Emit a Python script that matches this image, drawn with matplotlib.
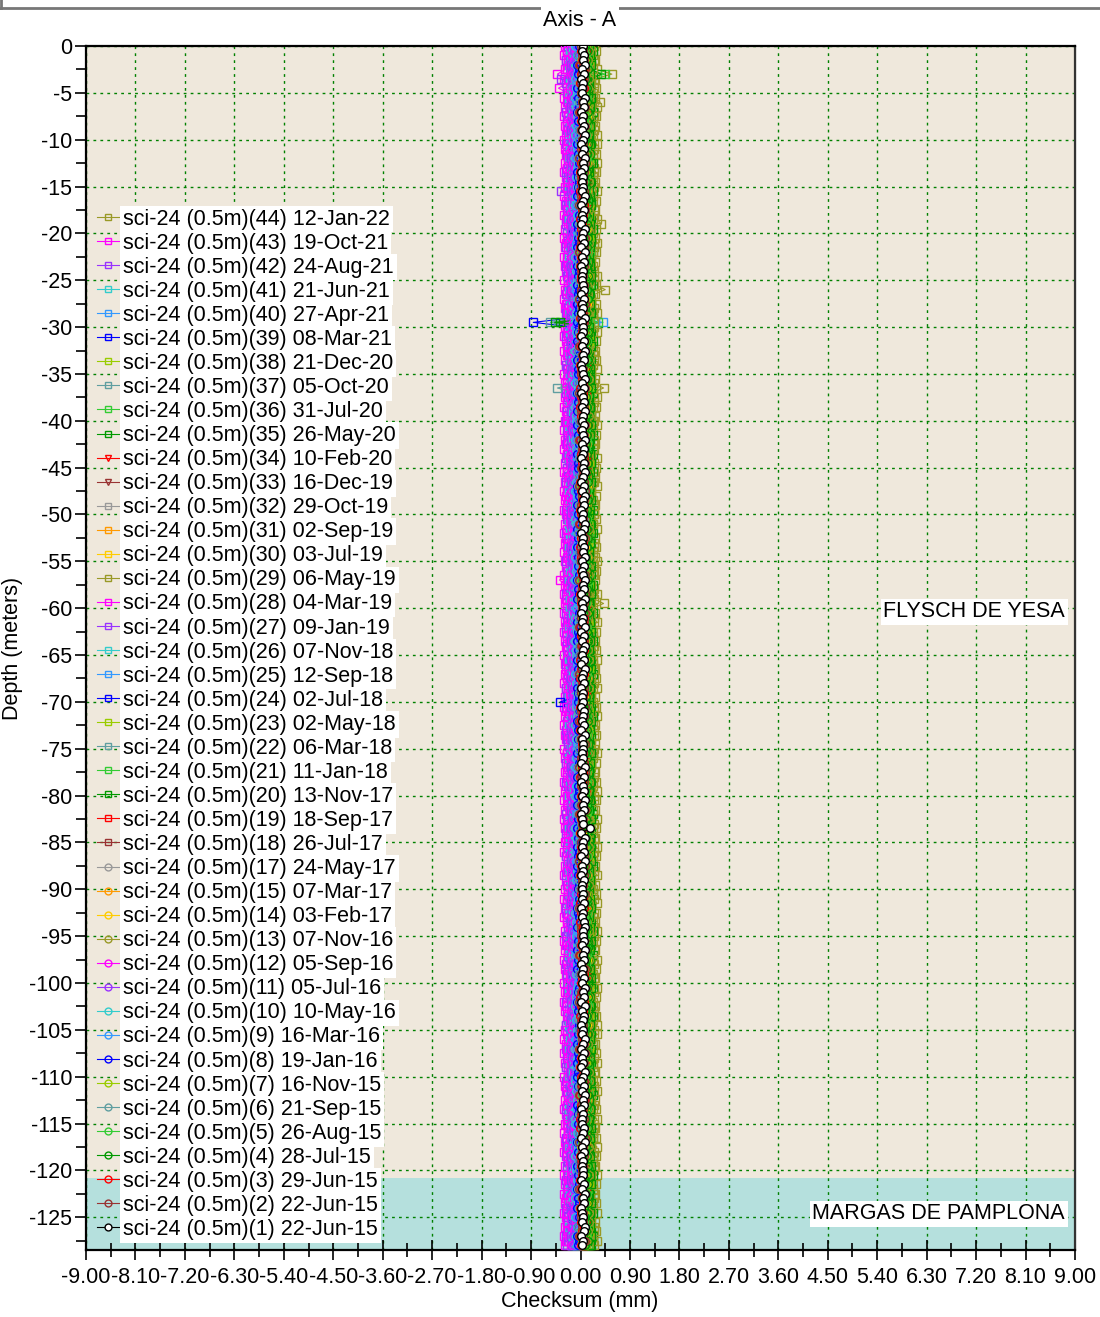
import numpy as np
import matplotlib
matplotlib.use("Agg")
import matplotlib.pyplot as plt
from matplotlib.lines import Line2D
from matplotlib.ticker import MultipleLocator, FuncFormatter, NullFormatter

plt.rcParams['font.family'] = ['Liberation Sans', 'DejaVu Sans']

# ---------------- data ----------------
depths = np.round(np.arange(0, -128.25, -0.5), 1)   # 0.5 m reading interval

survey_nums = [44, 43, 42, 41, 40, 39, 38, 37, 36, 35, 34, 33, 32, 31, 30, 29, 28, 27, 26, 25,
               24, 23, 22, 21, 20, 19, 18, 17, 15, 14, 13, 12, 11, 10, 9, 8, 7, 6, 5, 4, 3, 2, 1]
survey_dates = ["12-Jan-22", "19-Oct-21", "24-Aug-21", "21-Jun-21", "27-Apr-21", "08-Mar-21",
                "21-Dec-20", "05-Oct-20", "31-Jul-20", "26-May-20", "10-Feb-20", "16-Dec-19",
                "29-Oct-19", "02-Sep-19", "03-Jul-19", "06-May-19", "04-Mar-19", "09-Jan-19",
                "07-Nov-18", "12-Sep-18", "02-Jul-18", "02-May-18", "06-Mar-18", "11-Jan-18",
                "13-Nov-17", "18-Sep-17", "26-Jul-17", "24-May-17", "07-Mar-17", "03-Feb-17",
                "07-Nov-16", "05-Sep-16", "05-Jul-16", "10-May-16", "16-Mar-16", "19-Jan-16",
                "16-Nov-15", "21-Sep-15", "26-Aug-15", "28-Jul-15", "29-Jun-15", "22-Jun-15",
                "22-Jun-15"]

# mean checksum of each survey (mm)
base_offset = [0.24, -0.26, -0.22, -0.17, -0.13, -0.10, -0.05, -0.08, 0.12, 0.16, 0.02, 0.04,
               -0.04, 0.00, -0.02, 0.18, -0.20, -0.14, -0.10, -0.06, -0.03, 0.10, -0.01, 0.08,
               0.13, 0.06, 0.03, 0.00, 0.02, 0.05, 0.10, -0.12, -0.09, -0.06, -0.04, -0.02,
               0.04, 0.00, 0.06, 0.08, 0.03, 0.02, 0.05]

# deviation from the mean at each depth, one digit per reading: (digit-5)*0.02 mm
dev_strings = [
    ("5746385657 4638574658 3657485746 5847365857 4685736458 "
     "5746375846 5837465748 3657485736 5847465385 7465837465 "
     "5748365746 8574635857 4658374657 3846575836 4758465736 "
     "5847365748 5736485746 3857465836 4758374658 5736485746 "
     "3857465748 5836475846 3758465738 5647385746 5837465748 "
     "3657485"),
    ("4635746354 6374536475 3645746356 4735463574 6354736456 "
     "3746354675 4635736457 3645746356 4736453674 6354735463 "
     "5746354736 4563746354 6374536456 3745463574 6354736457 "
     "3645746354 7364536475 4635746356 4736453674 6354736456 "
     "3746354675 4635736457 3645746356 4736453674 6354735463 "
     "5746354"),
    ("5463746536 4756354647 5364756354 6475364537 4653746354 "
     "7563645374 6536475634 5746356475 3645746536 4753647563 "
     "5476354657 3645756374 6354736475 4637546354 7365463745 "
     "6453746356 4756345637 5463745364 7546354675 3647563546 "
     "4756374653 6475364537 5364756354 4653746354 6536475634 "
     "5476354"),
    ("6457365847 5364758463 5746385647 3857465374 6584735647 "
     "5836475364 7465837456 4758364756 5347586436 7584635746 "
     "5836457364 7546385746 4657384756 6348576453 7465835746 "
     "5738465847 3657486354 7465837465 5847365746 4758365847 "
     "6354758463 5746385647 3857465374 6584735647 4657483657 "
     "5836475"),
    ("4657385746 5736485647 3847564738 5647385746 4738564758 "
     "6457384756 3847565748 4756385647 5738465746 6475836475 "
     "3857465748 4657385746 5746384756 4857365746 3657485764 "
     "5746385647 4758365748 6375846574 5846375847 4657384756 "
     "5738465748 3647586457 4857364758 5647385746 4758365847 "
     "5647384"),
    ("5364756345 6475364756 4536475634 5746354763 6453746354 "
     "4756354637 5463745364 6354735463 4756345637 5364756354 "
     "6475364537 4653746354 7563645374 5364756345 4756354647 "
     "6354736475 4637546354 5365463745 6453746356 4756345637 "
     "5463745364 6546354675 3647563546 4756374653 5475364537 "
     "6364756"),
    ("5647485736 4758365847 5637485746 6473856475 5846375647 "
     "4758465736 5647385746 6475847365 5746385647 4857465738 "
     "5647584736 4758365746 6574836475 5846375846 4758365748 "
     "5637485746 6475837465 4758365847 5647385746 4857365748 "
     "6574835647 5846375847 4657385746 5748365746 6475836475 "
     "5746385"),
    ("4756385647 5847365746 4657385746 5738465847 4657384756 "
     "5847365746 6475836475 4758365746 5647385746 4857365748 "
     "5746385647 4657385746 5847365746 4758365847 5637485746 "
     "4758365746 5847365748 4657384756 5748365746 4857365746 "
     "5647385746 4758365847 5746385647 4657385746 5847365746 "
     "4758365"),
    ("6475836475 5846375847 6574835647 5748365746 6475847365 "
     "5846375846 4758365748 6574836475 5647385746 6475837465 "
     "5746385647 6475836475 5846375847 4758365847 6574835647 "
     "5748365746 6475847365 5846375846 6475837465 5647485736 "
     "6475836475 5846375847 4758365748 6574836475 5746385647 "
     "6475836"),
    ("5847365746 6475837465 5746385647 4857365748 6475836475 "
     "5846375847 5748365746 6574835647 4758365847 5847365748 "
     "6475847365 5637485746 5846375846 6475837465 4758365746 "
     "5847365746 6574836475 5746385647 4857465738 6475836475 "
     "5846375847 5748365746 6475847365 4758365847 5847365748 "
     "6475837"),
    ("5465746354 4756354647 5364756354 6475364537 5463746354 "
     "4563645374 5536475634 5746356475 4645746536 5753647563 "
     "5476354657 4645756374 5354736475 4637546354 5365463745 "
     "6453746356 4756345637 5463745364 4546354675 5647563546 "
     "4756374653 5475364537 5364756354 4653746354 5536475634 "
     "5476354"),
    ("5647385746 4758365847 5746385647 4657385746 5847365746 "
     "4758365746 5647385746 4857365748 5746385647 4657385746 "
     "5847365746 4758365847 5637485746 4758365746 5847365748 "
     "4657384756 5748365746 4857365746 5647385746 4758365847 "
     "5746385647 4657385746 5847365746 4758365746 5647385746 "
     "4857365"),
    ("4756354647 5364756354 6475364537 4653746354 5463746536 "
     "5746356475 3645746536 4753647563 5476354657 6536475634 "
     "3645756374 6354736475 4637546354 7365463745 5463745364 "
     "6453746356 4756345637 7546354675 3647563546 5364756354 "
     "4756374653 6475364537 4653746354 6536475634 5463746536 "
     "4756354"),
    ("5364758463 5746385647 6457365847 3857465374 6584735647 "
     "7465837456 5836475364 4758364756 5347586436 7584635746 "
     "7546385746 5836457364 4657384756 6348576453 7465835746 "
     "3657486354 5738465847 7465837465 5847365746 4758365847 "
     "5746385647 6354758463 3857465374 6584735647 4657483657 "
     "5364758"),
    ("5736485647 4657385746 3847564738 5647385746 4738564758 "
     "3847565748 6457384756 4756385647 5738465746 6475836475 "
     "4657385746 3857465748 5746384756 4857365746 3657485764 "
     "4758365748 5746385647 6375846574 5846375847 4657384756 "
     "3647586457 5738465748 4857364758 5647385746 4758365847 "
     "4657385"),
    ("4638574658 5746385657 5847365857 3657485746 4685736458 "
     "5837465748 5746375846 3657485736 7465837465 5847465385 "
     "8574635857 5748365746 4658374657 4758465736 3846575836 "
     "5736485746 5847365748 3857465836 5736485746 4758374658 "
     "5836475846 3857465748 3758465738 5837465748 5647385746 "
     "4638574"),
    ("6374536475 4635746354 4735463574 3645746356 6354736456 "
     "4635736457 3746354675 4736453674 3645746356 6354735463 "
     "4563746354 5746354736 3745463574 6374536456 6354736457 "
     "7364536475 3645746354 4736453674 4635746356 6354736456 "
     "4635736457 3746354675 4736453674 3645746356 6354735463 "
     "6374536"),
    ("4756354647 5463746536 6475364537 5364756354 4653746354 "
     "6536475634 7563645374 3645746536 5746356475 4753647563 "
     "3645756374 5476354657 4637546354 6354736475 7365463745 "
     "4756345637 6453746356 7546354675 5463745364 3647563546 "
     "6475364537 4756374653 4653746354 5364756354 6536475634 "
     "4756354"),
    ("5364758463 6457365847 3857465374 5746385647 6584735647 "
     "7465837456 5836475364 5347586436 4758364756 7584635746 "
     "7546385746 5836457364 6348576453 4657384756 7465835746 "
     "3657486354 5738465847 5847365746 7465837465 4758365847 "
     "5746385647 6354758463 6584735647 3857465374 4657483657 "
     "6457365"),
    ("5736485647 4657385746 5647385746 3847564738 4738564758 "
     "3847565748 6457384756 5738465746 4756385647 6475836475 "
     "4657385746 3857465748 4857365746 5746384756 3657485764 "
     "4758365748 5746385647 5846375847 6375846574 4657384756 "
     "3647586457 5738465748 5647385746 4857364758 4758365847 "
     "5736485"),
    ("6475364756 5364756345 5746354763 4536475634 6453746354 "
     "5463745364 4756354637 6354735463 5364756354 4756345637 "
     "6475364537 7563645374 4653746354 5364756345 4756354647 "
     "4637546354 6354736475 5365463745 4756345637 6453746356 "
     "5463745364 3647563546 6546354675 4756374653 5475364537 "
     "6475364"),
    ("4758365847 5647485736 6473856475 5637485746 5846375647 "
     "5647385746 4758465736 6475847365 4857465738 5746385647 "
     "4758365746 5647584736 6574836475 4758365748 5846375846 "
     "6475837465 5637485746 4758365847 4857365748 5647385746 "
     "5846375847 6574835647 4657385746 6475836475 5748365746 "
     "4758365"),
    ("5847365746 4756385647 5738465847 4657385746 4657384756 "
     "6475836475 5847365746 4758365746 4857365748 5647385746 "
     "4657385746 5746385647 5847365746 4758365847 5637485746 "
     "5847365748 4758365746 4657384756 4857365746 5748365746 "
     "4758365847 5647385746 5746385647 5847365746 4657385746 "
     "5847365"),
    ("5846375847 6475836475 6574835647 5748365746 6475847365 "
     "4758365748 5846375846 6574836475 6475837465 5647385746 "
     "5746385647 6475836475 5846375847 6574835647 4758365847 "
     "6475847365 5748365746 5846375846 5647485736 6475837465 "
     "6475836475 5846375847 6574836475 4758365748 5746385647 "
     "5846375"),
    ("6475837465 5847365746 5746385647 6475836475 4857365748 "
     "5846375847 6574835647 5748365746 5847365748 4758365847 "
     "6475847365 5846375846 5637485746 4758365746 6475837465 "
     "5847365746 5746385647 6574836475 6475836475 4857465738 "
     "5846375847 6475847365 5748365746 5847365748 4758365847 "
     "6475847"),
    ("4756354647 5465746354 6475364537 5364756354 5463746354 "
     "5536475634 4563645374 4645746536 5746356475 5753647563 "
     "4645756374 5476354657 4637546354 5354736475 5365463745 "
     "4756345637 6453746356 5647563546 5463745364 4546354675 "
     "5475364537 4756374653 4653746354 5364756354 5536475634 "
     "4756354"),
    ("4758365847 5647385746 4657385746 5746385647 5847365746 "
     "5647385746 4758365746 5746385647 4857365748 4657385746 "
     "4758365847 5847365746 4758365746 5637485746 5847365748 "
     "5748365746 4657384756 5647385746 4857365746 4758365847 "
     "4657385746 5746385647 4758365746 5847365746 5647385746 "
     "4758365"),
    ("5364756354 4756354647 4653746354 6475364537 5463746536 "
     "3645746536 5746356475 5476354657 4753647563 6536475634 "
     "6354736475 3645756374 7365463745 4637546354 5463745364 "
     "4756345637 6453746356 3647563546 7546354675 5364756354 "
     "6475364537 4756374653 6536475634 4653746354 5463746536 "
     "5364756"),
    ("5746385647 5364758463 3857465374 6457365847 6584735647 "
     "5836475364 7465837456 5347586436 4758364756 7584635746 "
     "5836457364 7546385746 6348576453 4657384756 7465835746 "
     "5738465847 3657486354 5847365746 7465837465 4758365847 "
     "6354758463 5746385647 6584735647 3857465374 4657483657 "
     "5746385"),
    ("4657385746 5736485647 5647385746 3847564738 4738564758 "
     "6457384756 3847565748 5738465746 4756385647 6475836475 "
     "3857465748 4657385746 4857365746 5746384756 3657485764 "
     "5746385647 4758365748 5846375847 6375846574 4657384756 "
     "5738465748 3647586457 5647385746 4857364758 4758365847 "
     "4657385"),
    ("5847365857 3657485746 4638574658 5746385657 4685736458 "
     "3657485736 5746375846 5837465748 5847465385 7465837465 "
     "4658374657 5748365746 8574635857 3846575836 4758465736 "
     "3857465836 5736485746 5847365748 4758374658 5736485746 "
     "3758465738 3857465748 5836475846 5647385746 5837465748 "
     "5847365"),
    ("4735463574 6374536475 4635746354 3645746356 6354736456 "
     "4736453674 4635736457 3746354675 3645746356 6354735463 "
     "3745463574 5746354736 4563746354 6374536456 6354736457 "
     "4635746356 3645746354 7364536475 4736453674 6354736456 "
     "4736453674 3746354675 4635736457 3645746356 6354735463 "
     "4735463"),
    ("6475364537 5463746536 4756354647 5364756354 4653746354 "
     "5746356475 6536475634 7563645374 3645746536 4753647563 "
     "4637546354 5476354657 3645756374 6354736475 7365463745 "
     "7546354675 6453746356 4756345637 5463745364 3647563546 "
     "4653746354 6475364537 4756374653 5364756354 6536475634 "
     "6475364"),
    ("3857465374 5364758463 6457365847 5746385647 6584735647 "
     "5347586436 7465837456 5836475364 4758364756 7584635746 "
     "6348576453 7546385746 5836457364 4657384756 7465835746 "
     "5847365746 3657486354 5738465847 7465837465 4758365847 "
     "6584735647 5746385647 6354758463 3857465374 4657483657 "
     "3857465"),
    ("3847564738 5736485647 4657385746 5647385746 4738564758 "
     "5738465746 3847565748 6457384756 4756385647 6475836475 "
     "4857365746 4657385746 3857465748 5746384756 3657485764 "
     "5846375847 4758365748 5746385647 6375846574 4657384756 "
     "5647385746 5738465748 3647586457 4857364758 4758365847 "
     "3847564"),
    ("5746354763 6475364756 5364756345 4536475634 6453746354 "
     "6354735463 5463745364 4756354637 5364756354 4756345637 "
     "4653746354 6475364537 7563645374 5364756345 4756354647 "
     "5365463745 4637546354 6354736475 4756345637 6453746356 "
     "6546354675 5463745364 3647563546 4756374653 5475364537 "
     "5746354"),
    ("6473856475 4758365847 5647485736 5637485746 5846375647 "
     "6475847365 5647385746 4758465736 4857465738 5746385647 "
     "6574836475 4758365746 5647584736 4758365748 5846375846 "
     "4758365847 6475837465 5637485746 4857365748 5647385746 "
     "4657385746 5846375847 6574835647 6475836475 5748365746 "
     "6473856"),
    ("5738465847 5847365746 4756385647 4657385746 4657384756 "
     "4758365746 6475836475 5847365746 4857365748 5647385746 "
     "5847365746 4657385746 5746385647 4758365847 5637485746 "
     "4657384756 5847365748 4758365746 4857365746 5748365746 "
     "5746385647 4758365847 5647385746 5847365746 4657385746 "
     "5738465"),
    ("6574835647 5846375847 6475836475 5748365746 6475847365 "
     "6574836475 4758365748 5846375846 6475837465 5647385746 "
     "5846375847 5746385647 6475836475 6574835647 4758365847 "
     "5846375846 6475847365 5748365746 5647485736 6475837465 "
     "6574836475 6475836475 5846375847 4758365748 5746385647 "
     "6574835"),
    ("5746385647 6475837465 5847365746 6475836475 4857365748 "
     "6574835647 5846375847 5748365746 5847365748 4758365847 "
     "5637485746 6475847365 5846375846 4758365746 6475837465 "
     "6574836475 5847365746 5746385647 6475836475 4857465738 "
     "5748365746 5846375847 6475847365 5847365748 4758365847 "
     "5746385"),
    ("6475364537 4756354647 5465746354 5364756354 5463746354 "
     "4645746536 5536475634 4563645374 5746356475 5753647563 "
     "4637546354 4645756374 5476354657 5354736475 5365463745 "
     "5647563546 4756345637 6453746356 5463745364 4546354675 "
     "4653746354 5475364537 4756374653 5364756354 5536475634 "
     "6475364"),
    ("4657385746 4758365847 5647385746 5746385647 5847365746 "
     "5746385647 5647385746 4758365746 4857365748 4657385746 "
     "5637485746 4758365847 5847365746 4758365746 5847365748 "
     "5647385746 5748365746 4657384756 4857365746 4758365847 "
     "5847365746 4657385746 5746385647 4758365746 5647385746 "
     "4657385"),
    ("5465746354 4756354647 5364756354 5475364537 5463746354 "
     "4563645374 5536475634 5746356475 4645746536 5753647563 "
     "5476354657 4645756374 5354736475 4637546354 5365463745 "
     "5453746356 4756345637 5463745364 4546354675 5647563546 "
     "4756374653 5475364537 5364756354 4653746354 5536475634 "
     "5476354"),
]

# isolated large readings (survey number -> {depth: checksum mm})
spikes = {
    44: {-3.0: 0.57, -6.0: 0.36, -10.5: 0.30, -19.0: 0.38, -26.0: 0.45, -36.5: 0.42, -59.5: 0.42},
    43: {-3.0: -0.42, -4.5: -0.40, -57.0: -0.38},
    42: {-3.5: -0.36, -15.5: -0.36},
    40: {-29.5: 0.41},
    39: {-29.5: -0.86, -70.0: -0.37},
    37: {-29.5: -0.55, -36.5: -0.42},
    36: {-3.0: 0.45, -29.5: 0.32},
    35: {-3.0: 0.38, -29.5: -0.47},
    20: {-29.5: -0.37},
    1: {-83.5: 0.17},
}

palette = ['#999926', '#FF00FF', '#9933FF', '#33CCCC', '#3399FF', '#0000FF', '#99CC00',
           '#5F9EA0', '#33CC33', '#009900', '#FF0000', '#993333', '#999999', '#FF9900', '#FFCC00']
series_colors = [palette[i % 15] for i in range(len(survey_nums) - 1)] + ['#000000']
series_markers = (['s'] * 10 + ['v'] * 2 + ['s'] * 15 + ['o'] * 16)

layers = [("FLYSCH DE YESA", 0.0, -120.8, '#EFE8DC'),
          ("MARGAS DE PAMPLONA", -120.8, -128.5, '#B5E0DD')]

# ---------------- figure ----------------
W, H = 1100, 1317
fig = plt.figure(figsize=(W / 100, H / 100), dpi=100)
ax = fig.add_axes([86 / W, 1 - 1250 / H, (1075 - 86) / W, (1250 - 46) / H])
ax.set_axisbelow(True)

FS = 15.5
for name, top, bot, col in layers:
    ax.axhspan(bot, top, color=col, zorder=0.2, lw=0)
    ax.text(8.82, (top + bot) / 2, name, ha='right', va='center', fontsize=FS, zorder=5,
            bbox=dict(facecolor='white', edgecolor='none', pad=2))

handles = []
for num, date, off, dstr, col, mk in zip(survey_nums, survey_dates, base_offset, dev_strings,
                                        series_colors, series_markers):
    digits = dstr.replace(' ', '')
    n = min(len(digits), len(depths))
    vals = off + (np.array([int(c) for c in digits[:n]]) - 5) * 0.02
    for d, v in spikes.get(num, {}).items():
        idx = int(np.argmin(np.abs(depths[:n] - d)))
        vals[idx] = v
    mfc = 'white' if num == 1 else 'none'
    ln, = ax.plot(vals, depths[:n], color=col, marker=mk, ms=5.5, mew=1.0, mfc=mfc, lw=0.8,
                  label=f"sci-24 (0.5m)({num}) {date}", zorder=3)
    handles.append(ln)

ax.set_xlim(-9, 9)
ax.set_ylim(-128.5, 0)

ax.xaxis.set_major_locator(MultipleLocator(0.9))
ax.xaxis.set_minor_locator(MultipleLocator(0.45))
ax.xaxis.set_major_formatter(FuncFormatter(lambda v, p: f"{(0.0 if abs(v) < 1e-9 else v):.2f}"))
ax.yaxis.set_major_locator(MultipleLocator(5))
ax.yaxis.set_minor_locator(MultipleLocator(2.5))
ax.yaxis.set_major_formatter(FuncFormatter(lambda v, p: f"{int(round(v))}"))

ax.tick_params(axis='y', which='both', direction='out', left=True, right=False,
               labelsize=FS, pad=2, width=1.2)
ax.tick_params(axis='y', which='major', length=8)
ax.tick_params(axis='y', which='minor', length=7)
ax.tick_params(axis='x', which='both', direction='inout', bottom=True, top=False,
               labelsize=FS, width=1.2)
ax.tick_params(axis='x', which='major', length=14, pad=5)
ax.tick_params(axis='x', which='minor', length=10)

secx = ax.secondary_xaxis('top')
secx.xaxis.set_major_locator(MultipleLocator(0.9))
secx.xaxis.set_minor_locator(MultipleLocator(0.45))
secx.xaxis.set_major_formatter(NullFormatter())
secx.tick_params(which='both', direction='in', length=7, width=1.2)
secy = ax.secondary_yaxis('right')
secy.yaxis.set_major_locator(MultipleLocator(5))
secy.yaxis.set_minor_locator(MultipleLocator(2.5))
secy.yaxis.set_major_formatter(NullFormatter())
secy.tick_params(which='both', direction='in', length=7, width=1.2)

for sp in ax.spines.values():
    sp.set_linewidth(1.6)
ax.spines['right'].set_color('#333333')

ax.grid(True, which='major', color='#008000', linestyle=(0, (2, 3)), lw=1.0)

leg = ax.legend(handles=handles, loc='upper left', bbox_to_anchor=(0.0111, 0.865),
                frameon=False, fontsize=15.5, handlelength=1.0, handletextpad=0.22,
                labelspacing=0.142, borderpad=0, borderaxespad=0, markerscale=0.9)
leg.set_zorder(6)
for t in leg.get_texts():
    t.set_bbox(dict(facecolor='white', edgecolor='none', pad=2.0))

# labels and frame
fig.text(13 / W, 1 - 648 / H, "Depth (meters)", rotation=90, ha='center', va='center', fontsize=FS)
fig.text(580 / W, 1 - 1302 / H, "Checksum (mm)", ha='center', va='center', fontsize=FS)
fig.add_artist(Line2D([0, 1], [1 - 8 / H, 1 - 8 / H], transform=fig.transFigure,
                      color='#777777', lw=2))
fig.add_artist(Line2D([0.5 / W, 0.5 / W], [1 - 8 / H, 1], transform=fig.transFigure,
                      color='#777777', lw=2))
fig.text(580 / W, 1 - 20 / H, "Axis - A", ha='center', va='center', fontsize=FS, zorder=10,
         bbox=dict(facecolor='white', edgecolor='none', pad=1.5))

fig.savefig("out.png", dpi=100)
